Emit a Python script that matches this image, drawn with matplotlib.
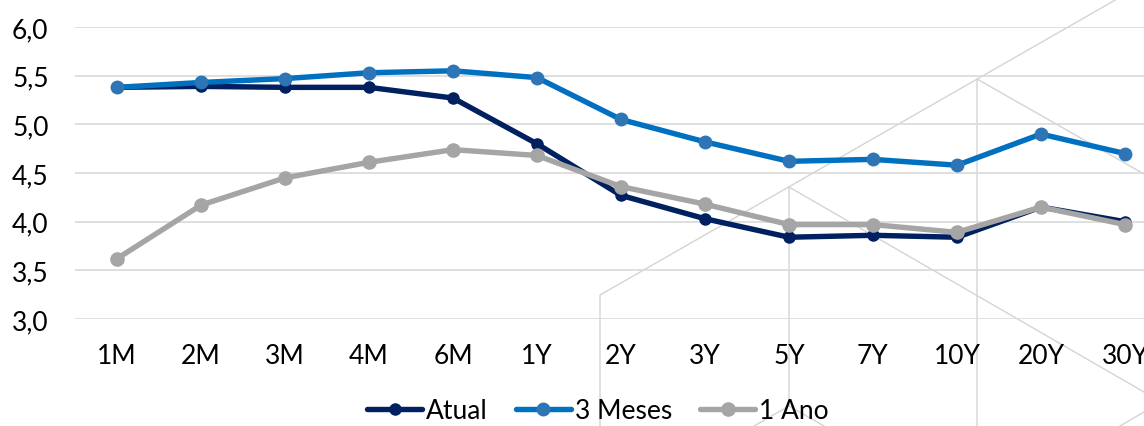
import matplotlib.pyplot as plt
from matplotlib.lines import Line2D

# curve data
tenors = ['1M', '2M', '3M', '4M', '6M', '1Y', '2Y', '3Y', '5Y', '7Y', '10Y', '20Y', '30Y']
atual = [5.38, 5.39, 5.38, 5.38, 5.27, 4.80, 4.27, 4.03, 3.84, 3.86, 3.84, 4.15, 4.00]
tres_meses = [5.38, 5.43, 5.47, 5.53, 5.55, 5.48, 5.05, 4.82, 4.62, 4.64, 4.58, 4.90, 4.70]
um_ano = [3.62, 4.17, 4.45, 4.61, 4.74, 4.68, 4.36, 4.18, 3.97, 3.97, 3.89, 4.15, 3.97]
y_ticks = [3.0, 3.5, 4.0, 4.5, 5.0, 5.5, 6.0]

W, H = 1144, 427
plt.rcParams['font.family'] = ['Lato', 'DejaVu Sans']

fig = plt.figure(figsize=(W / 100, H / 100), dpi=100)
fig.patch.set_facecolor('white')

# faint hexagon pattern behind the chart (pixel coords -> figure fraction)
deco = [
    [(600, 427), (600, 296), (1117, 0)],
    [(789, 407), (789, 188), (1144, 393)],
    [(754, 427), (789, 407), (824, 427)],
    [(977, 427), (977, 80), (1144, 175)],
    [(1120, 427), (1144, 413)],
]
for seg in deco:
    xs = [p[0] / W for p in seg]
    ys = [1 - p[1] / H for p in seg]
    fig.add_artist(Line2D(xs, ys, transform=fig.transFigure, color='#d4d4d4',
                          lw=1.0, zorder=-1))

left = 75 / W
ax = fig.add_axes([left, 1 - 320 / H, 1 - left, 292 / H])
ax.set_facecolor('none')

x = list(range(len(tenors)))
ax.plot(x, atual, color='#002060', lw=3.9, marker='o', ms=8, label='Atual',
        solid_capstyle='round', clip_on=False, zorder=3)
ax.plot(x, tres_meses, color='#0070c0', lw=3.9, marker='o', ms=9,
        markerfacecolor='#2e75b6', markeredgecolor='#2e75b6', label='3 Meses',
        solid_capstyle='round', clip_on=False, zorder=4)
ax.plot(x, um_ano, color='#a5a5a5', lw=3.9, marker='o', ms=9.5, label='1 Ano',
        solid_capstyle='round', clip_on=False, zorder=5)

ax.set_xlim(-0.5, 12.5 - 23 / 84)
ax.set_ylim(3.0, 6.0)
ax.set_xticks(x)
ax.set_xticklabels(tenors)
ax.set_yticks(y_ticks)
ax.set_yticklabels([f'{v:.1f}'.replace('.', ',') for v in y_ticks])
ax.tick_params(axis='both', length=0, labelsize=19, colors='black')
ax.tick_params(axis='y', pad=19)
ax.tick_params(axis='x', pad=17)
ax.yaxis.grid(True, color='#d9d9d9', lw=1.2)
ax.set_axisbelow(True)
for s in ax.spines.values():
    s.set_visible(False)

fig.legend(loc='center', bbox_to_anchor=(598 / W, 1 - 412 / H), ncol=3,
           frameon=False, fontsize=19, handlelength=2.1, handletextpad=0.15,
           columnspacing=1.05, borderaxespad=0)

fig.savefig('out.png', dpi=100)
